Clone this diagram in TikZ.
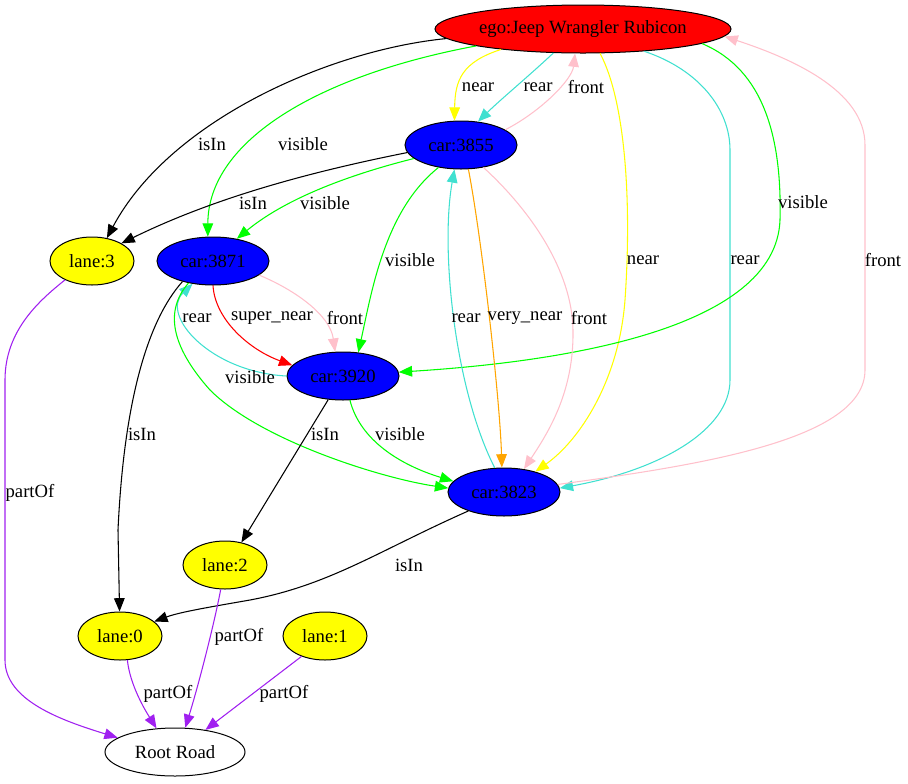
\documentclass[tikz,border=0pt]{standalone}
\usepackage{fontspec}
\setmainfont{Liberation Serif}
\usetikzlibrary{shapes.geometric,arrows.meta}
\definecolor{gvgreen}{HTML}{00FF00}
\definecolor{gvyellow}{HTML}{FFFF00}
\definecolor{gvturq}{HTML}{40E0D0}
\definecolor{gvpink}{HTML}{FFC0CB}
\definecolor{gvorange}{HTML}{FFA500}
\definecolor{gvpurple}{HTML}{A020F0}
\definecolor{gvred}{HTML}{FF0000}
\definecolor{gvblue}{HTML}{0000FF}
\begin{document}
\begin{tikzpicture}[x=0.75pt,y=-0.75pt,
  every node/.style={font=\fontsize{14}{16}\selectfont},
  gn/.style={ellipse,draw=black,line width=0.75pt,inner sep=0pt,minimum height=36pt,text=black},
  egon/.style={gn,fill=gvred,minimum width=222pt},
  carn/.style={gn,fill=gvblue,minimum width=84pt},
  lanen/.style={gn,fill=gvyellow,minimum width=63pt},
  rootn/.style={gn,fill=white,minimum width=105pt},
  ed/.style={line width=0.8pt,-{Triangle[length=10pt,width=8pt]}},
  lbl/.style={inner sep=0pt,text=black}
]
\useasboundingbox (0,0) rectangle (908,783);
% nodes
\node[egon] (ego) at (583,29) {ego:Jeep Wrangler Rubicon};
\node[carn] (car3855) at (461,145) {car:3855};
\node[carn] (car3871) at (213,261) {car:3871};
\node[carn] (car3920) at (343,376) {car:3920};
\node[carn] (car3823) at (504,492) {car:3823};
\node[lanen] (lane3) at (92,261) {lane:3};
\node[lanen] (lane2) at (225,565) {lane:2};
\node[lanen] (lane0) at (120,636) {lane:0};
\node[lanen] (lane1) at (325,636) {lane:1};
\node[rootn] (root) at (175,752) {Root Road};
% edges
\draw[ed,black] (ego.184) .. controls (330,50) and (170,120) .. (lane3.57) node[lbl] at (212,144) {isIn};
\draw[ed,gvgreen] (ego.189) .. controls (320,75) and (208,140) .. (car3871.102) node[lbl] at (303,144) {visible};
\draw[ed,gvyellow] (ego.194) .. controls (462,62) and (455,80) .. (car3855.105) node[lbl] at (478,87) {near};
\draw[ed,gvturq] (ego.219) .. controls (530,75) and (500,100) .. (car3855.54) node[lbl] at (538,87) {rear};
\draw[ed,gvpink] (car3855.19) .. controls (540,112) and (572,80) .. (ego.252) node[lbl] at (586,87) {front};
\draw[ed,gvyellow] (ego.305) .. controls (625,100) and (632,200) .. (625,300) .. controls (619,380) and (580,440) .. (car3823.33) node[lbl] at (643,260) {near};
\draw[ed,gvturq] (ego.340) .. controls (700,70) and (730,110) .. (730,150) -- (730,380) .. controls (730,430) and (660,470) .. (car3823.4) node[lbl] at (745,260) {rear};
\draw[ed,gvgreen] (ego.353) .. controls (765,70) and (782,140) .. (780,220) .. controls (776,330) and (560,362) .. (car3920.4) node[lbl] at (803,202) {visible};
\draw[ed,gvpink] (car3823.8) .. controls (700,465) and (865,440) .. (865,370) -- (865,145) .. controls (865,90) and (790,58) .. (ego.357) node[lbl] at (883,260) {front};
\draw[ed,black] (car3855.188) .. controls (320,170) and (220,195) .. (lane3.31) node[lbl] at (253,203) {isIn};
\draw[ed,gvgreen] (car3855.196) .. controls (360,172) and (290,195) .. (car3871.43) node[lbl] at (325,203) {visible};
\draw[ed,gvgreen] (car3855.225) .. controls (385,210) and (372,290) .. (car3920.57) node[lbl] at (410,260) {visible};
\draw[ed,gvturq] (car3823.111) .. controls (455,390) and (440,250) .. (car3855.255) node[lbl] at (466,318) {rear};
\draw[ed,gvorange] (car3855.287) .. controls (482,240) and (500,400) .. (car3823.95) node[lbl] at (525,318) {very\_near};
\draw[ed,gvpink] (car3855.315) .. controls (530,210) and (572,270) .. (573,330) .. controls (574,390) and (550,430) .. (car3823.49) node[lbl] at (589,318) {front};
\draw[ed,gvred] (car3871.270) .. controls (215,320) and (250,350) .. (car3920.168) node[lbl] at (272,318) {super\_near};
\draw[ed,gvpink] (car3871.343) .. controls (295,290) and (330,315) .. (car3920.108) node[lbl] at (345,318) {front};
\draw[ed,gvturq] (car3920.180) .. controls (210,372) and (160,315) .. (car3871.228) node[lbl] at (197,318) {rear};
\draw[ed,gvgreen] (car3871.222) .. controls (165,310) and (170,345) .. (210,390) .. controls (260,440) and (380,478) .. (car3823.176) node[lbl] at (250,377) {visible};
\draw[ed,black] (car3871.214) .. controls (148,320) and (124,400) .. (118,530) -- (lane0.91) node[lbl] at (142,434) {isIn};
\draw[ed,black] (car3920.238) -- (lane2.54) node[lbl] at (325,434) {isIn};
\draw[ed,gvgreen] (car3920.286) .. controls (360,440) and (400,465) .. (car3823.168) node[lbl] at (400,434) {visible};
\draw[ed,black] (car3823.208) .. controls (380,550) and (330,585) .. (250,600) .. controls (210,607) and (180,612) .. (lane0.23) node[lbl] at (409,565) {isIn};
\draw[ed,gvpurple] (lane3.215) .. controls (40,300) and (5,330) .. (5,380) -- (5,660) .. controls (5,700) and (60,720) .. (root.166) node[lbl] at (30,493) {partOf};
\draw[ed,gvpurple] (lane2.260) .. controls (215,620) and (200,680) .. (root.67) node[lbl] at (239,637) {partOf};
\draw[ed,gvpurple] (lane0.287) .. controls (130,685) and (145,710) .. (root.128) node[lbl] at (168,694) {partOf};
\draw[ed,gvpurple] (lane1.221) -- (root.36) node[lbl] at (284,694) {partOf};
\end{tikzpicture}
\end{document}
